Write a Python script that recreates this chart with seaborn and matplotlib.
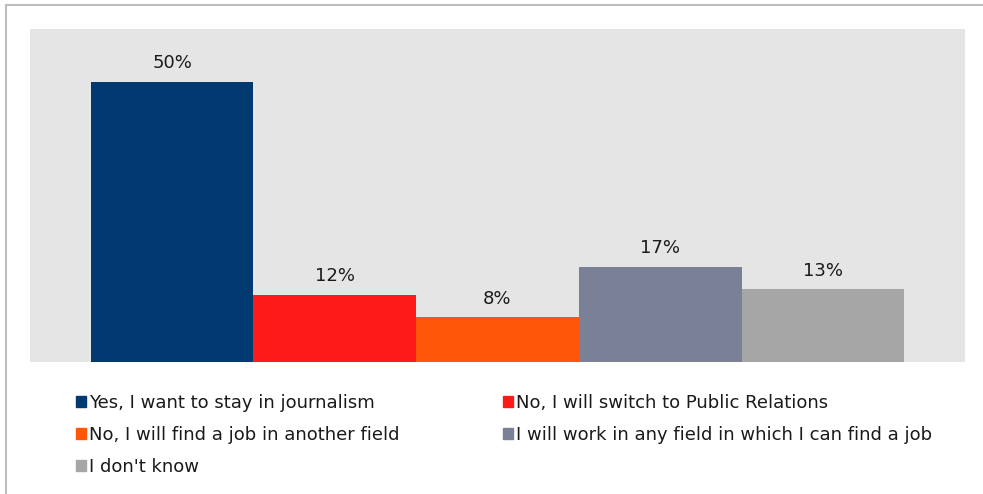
import pandas as pd
import seaborn as sns
import matplotlib.pyplot as plt
from matplotlib.lines import Line2D

# data
answers = ['Yes, I want to stay in journalism',
           'No, I will switch to Public Relations',
           'No, I will find a job in another field',
           'I will work in any field in which I can find a job',
           "I don't know"]
shares = [50, 12, 8, 17, 13]
colors = ['#003a70', '#ff1a1a', '#ff560a', '#7a8196', '#a6a6a6']

df = pd.DataFrame({'group': ['all'] * len(answers), 'answer': answers, 'share': shares})

sns.set_style('white')
plt.rcParams['font.family'] = ['DejaVu Sans']

fig = plt.figure(figsize=(9.83, 4.94), dpi=100)
W, H = 983, 494
ax = fig.add_axes([30 / W, 1 - 362 / H, (965 - 30) / W, (362 - 29) / H])
ax.set_facecolor('#e5e5e5')

sns.barplot(data=df, x='group', y='share', hue='answer', hue_order=answers,
            palette=colors, width=0.87, dodge=True, saturation=1,
            gap=0, ax=ax, legend=False, linewidth=0)

for cont in ax.containers:
    ax.bar_label(cont, fmt='%.0f%%', padding=7, fontsize=13, color='#1a1a1a')

ax.set_xlim(-0.5, 0.5)
ax.set_ylim(0, 59.5)
ax.set_xticks([])
ax.set_yticks([])
ax.set_xlabel('')
ax.set_ylabel('')
for s in ax.spines.values():
    s.set_visible(False)

# legend, row-major order
handles = [plt.Rectangle((0, 0), 1, 1, color=c) for c in colors]
order = [0, 2, 4, 1, 3]
fig.legend([handles[i] for i in order], [answers[i] for i in order],
           ncol=2, loc='upper left', bbox_to_anchor=(76 / W, 1 - 394 / H),
           frameon=False, fontsize=13, handlelength=0.55, handleheight=0.55,
           handletextpad=0.15, labelspacing=0.78, columnspacing=5.75,
           borderaxespad=0, borderpad=0, labelcolor='#1a1a1a')

# thin grey frame lines at left and top of the image
fig.add_artist(Line2D([5.5 / W, 5.5 / W], [0, 1 - 5 / H], color='#bdbdbd', lw=1.5,
                      transform=fig.transFigure))
fig.add_artist(Line2D([5.5 / W, 1], [1 - 5 / H, 1 - 5 / H], color='#bdbdbd', lw=1.5,
                      transform=fig.transFigure))

fig.savefig('out.png', dpi=100)
